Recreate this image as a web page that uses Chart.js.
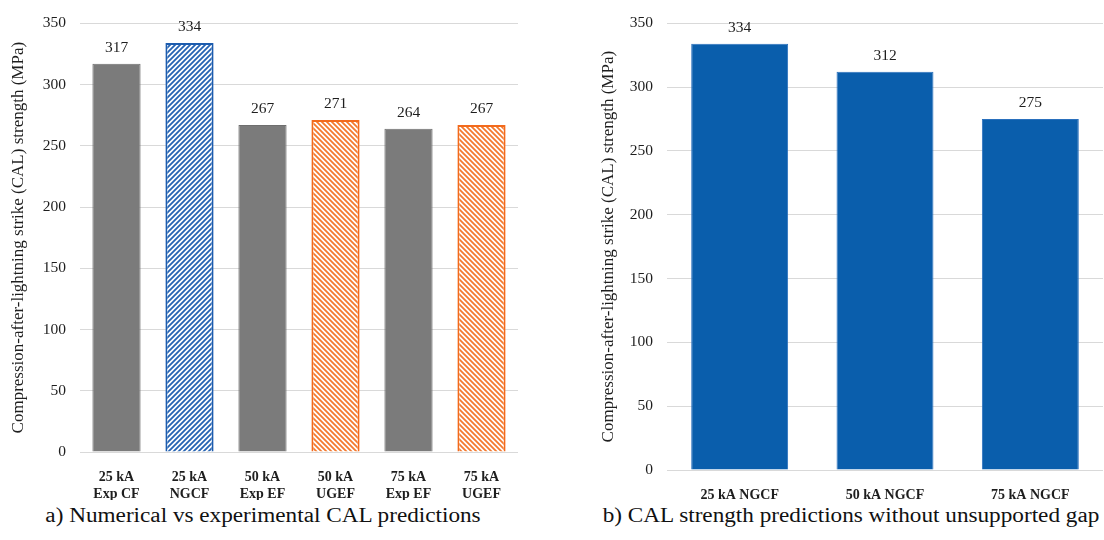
<!DOCTYPE html>
<html>
<head>
<meta charset="utf-8">
<script src="https://cdn.jsdelivr.net/npm/chart.js@4/dist/chart.umd.min.js"></script>
<style>
  html, body { margin: 0; padding: 0; background: #fff; }
  body { width: 1104px; height: 540px; position: relative; overflow: hidden; }
  .box { position: absolute; top: 0; height: 500px; }
  .caption {
    position: absolute; top: 500px; height: 30px; line-height: 30px;
    font-family: "Liberation Serif", "Times New Roman", serif; font-size: 20px; color: #111;
    white-space: nowrap; text-align: center; transform: scaleX(1.16);
  }
</style>
</head>
<body>
<div class="box" style="left:0;width:540px"><canvas id="chartA"></canvas></div>
<div class="box" style="left:560px;width:544px"><canvas id="chartB"></canvas></div>
<div class="caption" style="left:63px;width:400px">a) Numerical vs experimental CAL predictions</div>
<div class="caption" style="left:631px;width:440px">b) CAL strength predictions without unsupported gap</div>
<script>
// data
const leftLabels = [["25 kA", "Exp CF"], ["25 kA", "NGCF"], ["50 kA", "Exp EF"], ["50 kA", "UGEF"], ["75 kA", "Exp EF"], ["75 kA", "UGEF"]]
const leftValues = [317, 334, 267, 271, 264, 267]
const rightLabels = ["25 kA NGCF", "50 kA NGCF", "75 kA NGCF"]
const rightValues = [334, 312, 275]
const yTicks = [0, 50, 100, 150, 200, 250, 300, 350]
const yTitle = "Compression-after-lightning strike (CAL) strength (MPa)"

const serif = "'Liberation Serif', 'Times New Roman', serif"
const textColor = "#1e1e1e"

function hatch(color, dir) {
    const s = 5
    const c = document.createElement("canvas")
    c.width = s
    c.height = s
    const g = c.getContext("2d")
    g.fillStyle = "#fff"
    g.fillRect(0, 0, s, s)
    g.strokeStyle = color
    g.lineWidth = 1.8
    g.beginPath()
    if (dir === "/") {
        g.moveTo(-1, s + 1); g.lineTo(s + 1, -1)
        g.moveTo(-1, 1); g.lineTo(1, -1)
        g.moveTo(s - 1, s + 1); g.lineTo(s + 1, s - 1)
    } else {
        g.moveTo(-1, -1); g.lineTo(s + 1, s + 1)
        g.moveTo(s - 1, -1); g.lineTo(s + 1, 1)
        g.moveTo(-1, s - 1); g.lineTo(1, s + 1)
    }
    g.stroke()
    return document.getElementById("chartA").getContext("2d").createPattern(c, "repeat")
}

const blueHatch = hatch("#2563b3", "/")
const orangeHatch = hatch("#f47a2e", "\\")
const gray = "#7b7b7b"

const valueLabels = {
    id: "valueLabels",
    afterDatasetsDraw(chart) {
        const ctx = chart.ctx
        ctx.save()
        ctx.font = "15.5px " + serif
        ctx.fillStyle = textColor
        ctx.textAlign = "center"
        ctx.textBaseline = "middle"
        chart.getDatasetMeta(0).data.forEach((bar, i) => {
            ctx.fillText(chart.data.datasets[0].data[i], bar.x, bar.y - 16)
        })
        ctx.restore()
    },
}

function makeOptions(axisWidth, xHeight, padLeft, padRight) {
    return {
        responsive: true,
        maintainAspectRatio: false,
        animation: false,
        layout: { padding: { left: padLeft, right: padRight, top: 16, bottom: 0 } },
        plugins: { legend: { display: false }, tooltip: { enabled: false } },
        scales: {
            x: {
                grid: { display: false },
                border: { display: false },
                ticks: { color: textColor, padding: 9, maxRotation: 0, font: { family: serif, size: 14, weight: "bold", lineHeight: 1.2 } },
                afterFit: (s) => { s.height = xHeight },
            },
            y: {
                min: 0,
                max: 350,
                afterBuildTicks: (s) => { s.ticks = yTicks.map((v) => ({ value: v })) },
                grid: { color: "#d9d9d9", lineWidth: 1, drawTicks: false },
                border: { display: false },
                ticks: { color: textColor, padding: 14, font: { family: serif, size: 15.5 } },
                title: { display: true, text: yTitle, color: textColor, padding: { top: 8, bottom: 0 }, font: { family: serif, size: 17 } },
                afterFit: (s) => { s.width = axisWidth },
            },
        },
    }
}

new Chart(document.getElementById("chartA"), {
    type: "bar",
    data: {
        labels: leftLabels,
        datasets: [{
            data: leftValues,
            backgroundColor: [gray, blueHatch, gray, orangeHatch, gray, orangeHatch],
            borderColor: ["#6e6e6e", "#1d5cae", "#6e6e6e", "#f26a1c", "#6e6e6e", "#f26a1c"],
            borderWidth: [1, 2, 1, 2, 1, 2],
            barPercentage: 0.66,
            categoryPercentage: 1,
        }],
    },
    options: makeOptions(80, 48, 0, 22),
    plugins: [valueLabels],
})

new Chart(document.getElementById("chartB"), {
    type: "bar",
    data: {
        labels: rightLabels,
        datasets: [{
            data: rightValues,
            backgroundColor: "#0a5eac",
            borderColor: "#2a70bd",
            borderWidth: 1,
            barPercentage: 0.667,
            categoryPercentage: 1,
        }],
    },
    options: makeOptions(77, 30, 30, 1),
    plugins: [valueLabels],
})
</script>
</body>
</html>
